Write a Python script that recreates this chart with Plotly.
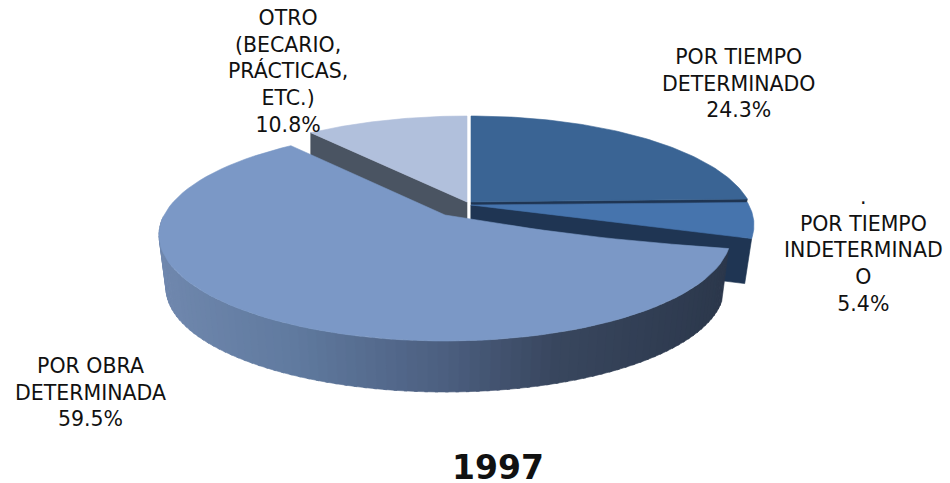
import math
import plotly.graph_objects as go

# ---- data ----
categories = ["POR TIEMPO<br>DETERMINADO", ".<br>POR TIEMPO<br>INDETERMINAD<br>O",
              "POR OBRA<br>DETERMINADA", "OTRO<br>(BECARIO,<br>PRÁCTICAS,<br>ETC.)"]
values = [24.3, 5.4, 59.5, 10.8]
year = "1997"

# ---- styles / geometry of the tilted exploded disc ----
W, H = 950, 483
top_colors = ["#3a6494", "#4674ad", "#7b98c6", "#b1c0dc"]
wall_colors = ["#1f3553", "#1f3553", None, "#4a5462"]
apex = [(471, 202), (471, 205), (445, 215), (467, 202)]
RX, RY, DROP = [283, 283, 286, 290], 106, 20      # ellipse radii, ellipse centre below apex
RXB_DELTA, RYB, DEPTH = 7, 104, 53                # lower rim of the disc
SKEW = 10                                         # perspective shift of the angles
BOW = 4                                           # slight sag of the large slice's right edge
label_pos = [(738, 83), (863, 250), (90, 392), (288, 71)]
grad_stops = [(160, "#7088ae"), (300, "#607a9f"), (450, "#4c5f80"), (560, "#39475f"), (730, "#2c384c")]


def phi(theta):
    return theta - SKEW * math.sin(math.radians(theta))


def rim(i, theta, lower=False):
    p = math.radians(phi(theta))
    ax, ay = apex[i]
    if lower:
        return (ax + (RX[i] - RXB_DELTA) * math.sin(p), ay + DROP + DEPTH - RYB * math.cos(p))
    return (ax + RX[i] * math.sin(p), ay + DROP - RY * math.cos(p))


def hex_rgb(c):
    return tuple(int(c[k:k + 2], 16) for k in (1, 3, 5))


def grad(x):
    for (x0, c0), (x1, c1) in zip(grad_stops, grad_stops[1:]):
        if x <= x1:
            t = max(0, (x - x0) / (x1 - x0))
            a, b = hex_rgb(c0), hex_rgb(c1)
            return "rgb(%d,%d,%d)" % tuple(a[k] + (b[k] - a[k]) * t for k in range(3))
    return grad_stops[-1][1]


def poly(pts, color):
    xs = [p[0] for p in pts] + [pts[0][0]]
    ys = [p[1] for p in pts] + [pts[0][1]]
    return go.Scatter(x=xs, y=ys, mode="lines", fill="toself", fillcolor=color,
                      line=dict(color=color, width=0.6), hoverinfo="skip", showlegend=False)


# slice angle spans from the values
spans = []
a = 0.0
for v in values:
    spans.append((a, a + v * 3.6))
    a += v * 3.6


def arc(i, lower=False, n=80):
    t0, t1 = spans[i]
    return [rim(i, t0 + (t1 - t0) * k / n, lower) for k in range(n + 1)]


def sag_edge(i, n=20):
    ax, ay = apex[i]
    cx, cy = rim(i, spans[i][0])
    return [(ax + (cx - ax) * k / n, ay + (cy - ay) * k / n + BOW * math.sin(math.pi * k / n))
            for k in range(n)]


fig = go.Figure()

# cut faces of the detached slices
for i in (0, 1):
    ax, ay = apex[i]
    c = rim(i, spans[i][1])
    cb = rim(i, spans[i][1], True)
    fig.add_trace(poly([(ax, ay), c, (cb[0], c[1] + 45), (ax, ay + 45)], wall_colors[i]))
fig.add_trace(poly([apex[1]] + arc(1), top_colors[1]))
fig.add_trace(poly([apex[0]] + arc(0), top_colors[0]))

ax, ay = apex[3]
c = rim(3, spans[3][0])
fig.add_trace(poly([(ax, ay), c, (c[0], c[1] + 50), (ax, ay + 50)], wall_colors[3]))
fig.add_trace(poly([apex[3]] + arc(3), top_colors[3]))

# outer wall of the large slice, shaded left to right
t0, t1 = spans[2]
N = 90
end = min(t1, 270)
for k in range(N):
    ta = t0 + (end - t0) * k / N
    tb = t0 + (end - t0) * (k + 1.3) / N
    pts = [rim(2, ta), rim(2, min(tb, end)), rim(2, min(tb, end), True), rim(2, ta, True)]
    fig.add_trace(poly(pts, grad(pts[0][0])))
fig.add_trace(poly(sag_edge(2) + arc(2), top_colors[2]))

annotations = [
    dict(x=px, y=py, xref="x", yref="y", text=f"{cat}<br>{v}%", showarrow=False,
         xanchor="center", yanchor="middle", align="center",
         font=dict(family="DejaVu Sans", size=20.5, color="#111111"))
    for cat, v, (px, py) in zip(categories, values, label_pos)
]

fig.update_layout(
    width=W, height=H, margin=dict(l=0, r=0, t=0, b=0),
    paper_bgcolor="white", plot_bgcolor="white", showlegend=False,
    xaxis=dict(range=[0, W], visible=False, fixedrange=True),
    yaxis=dict(range=[H, 0], visible=False, fixedrange=True),
    title=dict(text=f"<b>{year}</b>", x=498 / W, xanchor="center", y=1 - 467 / H, yanchor="middle",
               font=dict(family="DejaVu Sans", size=33, color="#111111")),
    annotations=annotations,
)
fig.write_html("out.html", config=dict(displayModeBar=False),
               post_script="document.body.style.margin='0';document.body.style.overflow='hidden';")
